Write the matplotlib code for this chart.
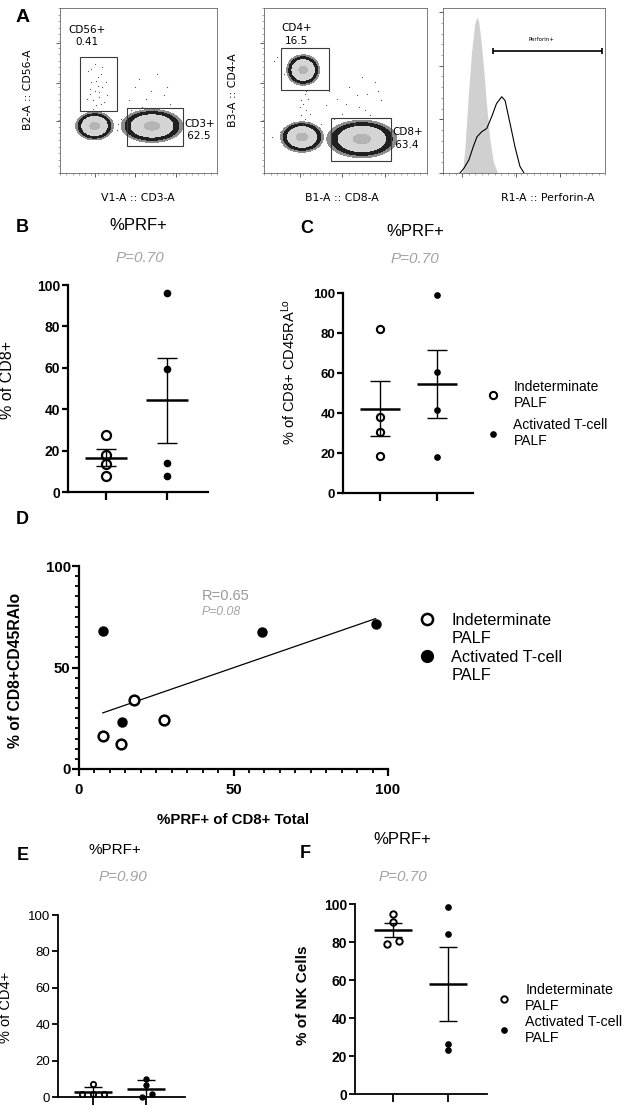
import numpy as np
import matplotlib
matplotlib.use("Agg")
import matplotlib.pyplot as plt
from matplotlib.lines import Line2D
from matplotlib.patches import Rectangle
from matplotlib.ticker import MultipleLocator

plt.rcParams['font.family'] = ['Liberation Sans', 'DejaVu Sans']
plt.rcParams['mathtext.default'] = 'regular'

W, H = 625, 1112

# ---- data ----
groups = ["Indeterminate\nPALF", "Activated T-cell\nPALF"]

# B: %PRF+ of CD8+
b_indet = [27.4, 17.7, 13.7, 7.7]
b_act = [96.0, 59.2, 14.0, 7.7]
# C: %PRF+ of CD8+ CD45RA lo
c_indet = [82.0, 37.8, 30.5, 18.3]
c_act = [98.8, 60.3, 41.7, 17.8]
# D: correlation
d_indet_x = [17.7, 27.4, 7.7, 13.7]
d_indet_y = [33.8, 24.3, 16.1, 12.3]
d_act_x = [7.7, 59.2, 14.0, 96.0]
d_act_y = [68.2, 67.7, 23.1, 71.3]
# E: %PRF+ of CD4+
e_indet = [7.0, 1.5, 1.5, 1.5]
e_act = [10.1, 6.4, 0.0, 1.9]
e_indet_off = [0.0, -0.2, 0.0, 0.2]
e_act_off = [0.0, 0.0, -0.08, 0.11]
# F: %PRF+ of NK cells
f_indet = [94.6, 90.7, 79.0, 80.7]
f_act = [98.6, 84.0, 26.1, 23.2]
f_indet_off = [0.0, 0.0, -0.11, 0.11]
f_act_off = [0.0, 0.0, 0.0, 0.0]

# A: flow plots (axis units 0-100), clusters as (x, y, half width, half height)
cd56_clusters = [(22, 28.5, 9.5, 6.7), (58.6, 28.5, 15.6, 7.9)]
cd56_gates = [(12.7, 37.6, 36.3, 70.3), (42.7, 16.4, 78.3, 39.4)]
cd56_dust_x = [18, 20, 22, 24, 25, 27, 21, 23, 26, 19, 28, 22, 24, 30, 48, 55, 62, 66, 52, 70, 45, 58, 37, 36, 39,
               17, 20, 23, 26, 29, 21, 25, 19, 27, 44, 60, 68, 50]
cd56_dust_y = [62, 55, 50, 58, 46, 52, 44, 41, 60, 48, 43, 66, 53, 47, 52, 45, 60, 47, 40, 42, 38, 50, 30, 26, 33,
               45, 63, 56, 42, 55, 39, 49, 51, 64, 44, 38, 52, 57]

cd4_clusters = [(24, 62.4, 8.0, 7.3), (23.3, 21.8, 10.4, 7.3), (60, 20.6, 17.0, 9.0)]
cd4_gates = [(10.4, 50.3, 40.0, 75.8), (41.0, 7.3, 78.0, 33.3)]
cd4_dust_x = [25, 24, 26, 23, 27, 25, 22, 28, 45, 52, 58, 63, 48, 68, 55, 72, 40, 60, 35, 65, 8, 6, 10, 5, 12,
              24, 26, 23, 27, 50, 57, 62, 70, 43, 38]
cd4_dust_y = [48, 42, 38, 35, 45, 33, 40, 36, 45, 52, 40, 48, 36, 55, 30, 44, 50, 58, 30, 35, 70, 68, 25, 22, 60,
              30, 50, 44, 31, 42, 47, 38, 50, 33, 41]

perf_ctrl_x = [12, 13.5, 15.5, 17.5, 19.5, 20.8, 22, 23.5, 25, 27, 29, 31, 33.7]
perf_ctrl_y = [0, 15, 45, 72, 90, 94.5, 92, 80, 64, 40, 20, 7, 0]
perf_stain_x = [10.5, 13, 16, 18.7, 21, 23.9, 27, 30, 33, 36.2, 38.3, 41.4, 44.4, 47.5, 50]
perf_stain_y = [0, 3, 8, 16, 22, 25, 27, 34, 42, 46.2, 44, 30, 16, 4, 0]
perf_gate = (31, 98, 74)

fig = plt.figure(figsize=(W / 100, H / 100), dpi=100)


def add_ax(l, t, r, b):
    return fig.add_axes([l / W, 1 - b / H, (r - l) / W, (b - t) / H])


def ftext(x, y, s, **kw):
    kw.setdefault('ha', 'center')
    kw.setdefault('va', 'center')
    fig.text(x / W, 1 - y / H, s, **kw)


def fxy(x, y):
    return (x / W, 1 - y / H)


def cat_xlim(L, R, p1, p2):
    u = p2 - p1
    return (1 - (p1 - L) / u, 2 + (R - p2) / u)


pval_kw = dict(style='italic', color='#a3a3a3')

# ---------------- panel A ----------------
gx = np.linspace(0, 100, 400)
X, Y = np.meshgrid(gx, gx)


def flow_ax(ax, clusters, gates, dx, dy, xlab, ylab, lab_x, ylab_x):
    Z = np.zeros_like(X)
    for cx, cy, hw, hh in clusters:
        sx, sy = hw / 2.1, hh / 2.1
        Z = np.maximum(Z, np.exp(-((X - cx) ** 2 / (2 * sx ** 2) + (Y - cy) ** 2 / (2 * sy ** 2))))
    ax.contourf(X, Y, Z, levels=[0.03, 0.07, 0.2, 0.8, 1.01],
                colors=['#8c8c8c', '#202020', '#d4d4d4', '#b4b4b4'])
    ax.scatter(dx, dy, s=0.8, color='#555555', lw=0)
    for (x0, y0, x1, y1) in gates:
        ax.add_patch(Rectangle((x0, y0), x1 - x0, y1 - y0, fill=False, ec='#3a3a3a', lw=0.8))
    ax.set_xlim(0, 100)
    ax.set_ylim(0, 100)
    for s in ax.spines.values():
        s.set_linewidth(0.6)
        s.set_color('#666666')
    ax.set_xticks([22, 48, 74])
    ax.set_yticks([31.5, 54.5, 79])
    ax.xaxis.set_minor_locator(MultipleLocator(4))
    ax.yaxis.set_minor_locator(MultipleLocator(4))
    ax.tick_params(which='major', length=3, width=0.6, color='#444444', labelleft=False, labelbottom=False)
    ax.tick_params(which='minor', length=1.5, width=0.4, color='#666666')
    ax.set_xlabel(xlab, fontsize=7.8, family='DejaVu Sans')
    ax.xaxis.set_label_coords(*fxy(lab_x, 193), transform=fig.transFigure)
    if ylab:
        ax.set_ylabel(ylab, fontsize=7.8, family='DejaVu Sans')
        ax.yaxis.set_label_coords(*fxy(ylab_x, 90), transform=fig.transFigure)


a1 = add_ax(60, 8, 217, 173)
flow_ax(a1, cd56_clusters, cd56_gates, cd56_dust_x, cd56_dust_y,
        "V1-A :: CD3-A", "B2-A :: CD56-A", 138, 33)
a1.text(17.2, 83, "CD56+\n0.41", ha='center', va='center', fontsize=7.5, family='DejaVu Sans', linespacing=1.3)
a1.text(79, 26, "CD3+\n 62.5", ha='left', va='center', fontsize=7.5, family='DejaVu Sans', linespacing=1.3)

a2 = add_ax(264, 8, 427, 173)
flow_ax(a2, cd4_clusters, cd4_gates, cd4_dust_x, cd4_dust_y,
        "B1-A :: CD8-A", "B3-A :: CD4-A", 342, 238)
a2.text(20, 84, "CD4+\n16.5", ha='center', va='center', fontsize=7.5, family='DejaVu Sans', linespacing=1.3)
a2.text(78.5, 21, "CD8+\n 63.4", ha='left', va='center', fontsize=7.5, family='DejaVu Sans', linespacing=1.3)

a3 = add_ax(443, 8, 605, 173)
a3.fill_between(perf_ctrl_x, perf_ctrl_y, color='#d0d0d0', lw=0)
a3.plot(perf_stain_x, perf_stain_y, color='black', lw=0.8)
a3.hlines(perf_gate[2], perf_gate[0], perf_gate[1], color='black', lw=1.2)
a3.vlines([perf_gate[0], perf_gate[1]], perf_gate[2] - 2, perf_gate[2] + 2, color='black', lw=1.2)
a3.text(61, 81, "Perforin+", ha='center', va='center', fontsize=4, family='DejaVu Sans')
a3.set_xlim(0, 100)
a3.set_ylim(0, 100)
for s in a3.spines.values():
    s.set_linewidth(0.6)
    s.set_color('#666666')
a3.set_yticks([0, 32.7, 64.8, 97.6])
a3.set_xticks([12, 45, 72])
a3.xaxis.set_minor_locator(MultipleLocator(4))
a3.yaxis.set_minor_locator(MultipleLocator(6.5))
a3.tick_params(which='major', length=3, width=0.6, color='#444444', labelleft=False, labelbottom=False)
a3.tick_params(which='minor', length=1.5, width=0.4, color='#666666')
a3.set_xlabel("R1-A :: Perforin-A", fontsize=7.8, family='DejaVu Sans')
a3.xaxis.set_label_coords(*fxy(548, 193), transform=fig.transFigure)

ftext(23, 18, "A", fontsize=14, weight='bold')


# ---------------- dot plots ----------------
def dot_plot(ax, data, offsets, ms_open, ms_fill, mew, err='sem'):
    for i, (vals, off) in enumerate(zip(data, offsets)):
        pos = i + 1
        v = np.array(vals)
        m = v.mean()
        e = v.std(ddof=1)
        if err == 'sem':
            e = e / np.sqrt(len(v))
        xs = pos + np.array(off)
        if i == 0:
            ax.plot(xs, v, 'o', mfc='white', mec='black', mew=mew, ms=ms_open, clip_on=False, zorder=3)
        else:
            ax.plot(xs, v, 'o', color='black', ms=ms_fill, clip_on=False, zorder=3)
        ax.hlines(m, pos - 0.35, pos + 0.35, color='black', lw=1.8, zorder=4)
        ax.vlines(pos, m - e, m + e, color='black', lw=1, zorder=4)
        ax.hlines([m - e, m + e], pos - 0.17, pos + 0.17, color='black', lw=1, zorder=4)


def style_cat(ax, xl, lw, fs, bold):
    for s in ['top', 'right']:
        ax.spines[s].set_visible(False)
    ax.spines['left'].set_linewidth(lw)
    ax.spines['bottom'].set_linewidth(lw)
    ax.set_xlim(*xl)
    ax.set_ylim(0, 100)
    ax.set_yticks(range(0, 101, 20))
    ax.set_xticks([1, 2])
    ax.tick_params(axis='y', length=4.5, width=lw, pad=1, labelsize=fs)
    ax.tick_params(axis='x', length=6, width=lw, labelbottom=False)
    if bold:
        for t in ax.get_yticklabels():
            t.set_fontweight('bold')


def legend(ax, x, y, fs, ms_open, ms_fill, mew, spacing):
    hs = [Line2D([], [], ls='none', marker='o', mfc='white', mec='black', mew=mew, ms=ms_open),
          Line2D([], [], ls='none', marker='o', color='black', ms=ms_fill)]
    ax.legend(hs, groups, loc='center left', bbox_to_anchor=fxy(x, y), bbox_transform=fig.transFigure,
              frameon=False, borderpad=0, borderaxespad=0, handlelength=0.8, handletextpad=1.1,
              labelspacing=spacing, fontsize=fs)


# B
axb = add_ax(68, 285, 208, 492)
dot_plot(axb, [b_indet, b_act], [[0] * 4, [0] * 4], 6.5, 4.5, 1.6)
style_cat(axb, cat_xlim(68, 208, 106, 167), 1.6, 10, True)
axb.set_ylabel("% of CD8+", fontsize=11.5)
axb.yaxis.set_label_coords(*fxy(15, 380), transform=fig.transFigure)
ftext(22, 227, "B", fontsize=13, weight='bold')
ftext(138, 225, "%PRF+", fontsize=12)
ftext(140, 258, "P=0.70", fontsize=11, **pval_kw)

# C
axc = add_ax(343, 293, 473, 493)
dot_plot(axc, [c_indet, c_act], [[0] * 4, [0] * 4], 5.2, 3.8, 1.5)
style_cat(axc, cat_xlim(343, 473, 380, 437), 1.6, 9.5, True)
axc.set_ylabel("% of CD8+ CD45RA$^{Lo}$", fontsize=10.5)
axc.yaxis.set_label_coords(*fxy(298, 372), transform=fig.transFigure)
legend(axc, 487, 414, 10, 5.2, 3.8, 1.5, 0.6)
ftext(307, 228, "C", fontsize=13, weight='bold')
ftext(415, 231, "%PRF+", fontsize=12)
ftext(415, 259, "P=0.70", fontsize=11, **pval_kw)

# D
axd = add_ax(79, 566, 388, 769)
axd.plot(d_indet_x, d_indet_y, 'o', mfc='white', mec='black', mew=1.8, ms=7, zorder=3)
axd.plot(d_act_x, d_act_y, 'o', color='black', ms=6.5, zorder=3)
all_x = np.array(d_indet_x + d_act_x)
all_y = np.array(d_indet_y + d_act_y)
slope, icpt = np.polyfit(all_x, all_y, 1)
xfit = np.array([all_x.min(), all_x.max()])
axd.plot(xfit, slope * xfit + icpt, color='black', lw=0.9)
r = np.corrcoef(all_x, all_y)[0, 1]
axd.text(202 / W, 1 - 596 / H, f"R={r:.2f}", transform=fig.transFigure, ha='left', va='center',
         fontsize=10.5, color='#9a9a9a')
axd.text(202 / W, 1 - 612 / H, "P=0.08", transform=fig.transFigure, ha='left', va='center',
         fontsize=8.8, **pval_kw)
for s in ['top', 'right']:
    axd.spines[s].set_visible(False)
axd.spines['left'].set_linewidth(1.6)
axd.spines['bottom'].set_linewidth(1.6)
axd.set_xlim(0, 100)
axd.set_ylim(0, 100)
axd.set_xticks([0, 50, 100])
axd.set_yticks([0, 50, 100])
axd.xaxis.set_minor_locator(MultipleLocator(5))
axd.yaxis.set_minor_locator(MultipleLocator(5))
axd.tick_params(which='major', length=5, width=1.6, labelsize=10.8)
axd.tick_params(axis='x', which='major', pad=5)
axd.tick_params(axis='y', which='major', pad=1)
axd.tick_params(which='minor', length=3, width=1.3)
for t in axd.get_xticklabels() + axd.get_yticklabels():
    t.set_fontweight('bold')
axd.set_xlabel("%PRF+ of CD8+ Total", fontsize=10.8, weight='bold')
axd.xaxis.set_label_coords(*fxy(233, 813), transform=fig.transFigure)
axd.set_ylabel("% of CD8+CD45RAlo", fontsize=11.3, weight='bold')
axd.yaxis.set_label_coords(*fxy(23, 670), transform=fig.transFigure)
hs = [Line2D([], [], ls='none', marker='o', mfc='white', mec='black', mew=1.8, ms=8),
      Line2D([], [], ls='none'),
      Line2D([], [], ls='none', marker='o', color='black', ms=8.5),
      Line2D([], [], ls='none')]
axd.legend(hs, ["Indeterminate", "PALF", "Activated T-cell", "PALF"], loc='upper left',
           bbox_to_anchor=fxy(420, 613), bbox_transform=fig.transFigure, frameon=False,
           borderpad=0, borderaxespad=0, handlelength=0.8, handletextpad=1.1,
           labelspacing=0.2, fontsize=11.8)
ftext(22, 519, "D", fontsize=13, weight='bold')

# E
axe = add_ax(58, 915, 185, 1097)
dot_plot(axe, [e_indet, e_act], [e_indet_off, e_act_off], 3.8, 3.6, 1.3, err='sd')
style_cat(axe, cat_xlim(58, 185, 93, 146), 1.3, 9.5, False)
axe.set_ylabel("% of CD4+", fontsize=10.5)
axe.yaxis.set_label_coords(*fxy(13, 1007), transform=fig.transFigure)
ftext(23, 855, "E", fontsize=13, weight='bold')
ftext(115, 850, "%PRF+", fontsize=11)
ftext(123, 877, "P=0.90", fontsize=11, **pval_kw)

# F
axf = add_ax(355, 904, 487, 1094)
dot_plot(axf, [f_indet, f_act], [f_indet_off, f_act_off], 4.6, 3.8, 1.4)
style_cat(axf, cat_xlim(355, 487, 393, 448), 1.3, 10, True)
axf.set_ylabel("% of NK Cells", fontsize=11, weight='bold')
axf.yaxis.set_label_coords(*fxy(310, 995), transform=fig.transFigure)
legend(axf, 498, 1014, 10.3, 4.6, 3.8, 1.4, 0.1)
ftext(305, 853, "F", fontsize=13, weight='bold')
ftext(402, 840, "%PRF+", fontsize=12)
ftext(403, 877, "P=0.70", fontsize=11, **pval_kw)

fig.savefig("out.png", dpi=100)
